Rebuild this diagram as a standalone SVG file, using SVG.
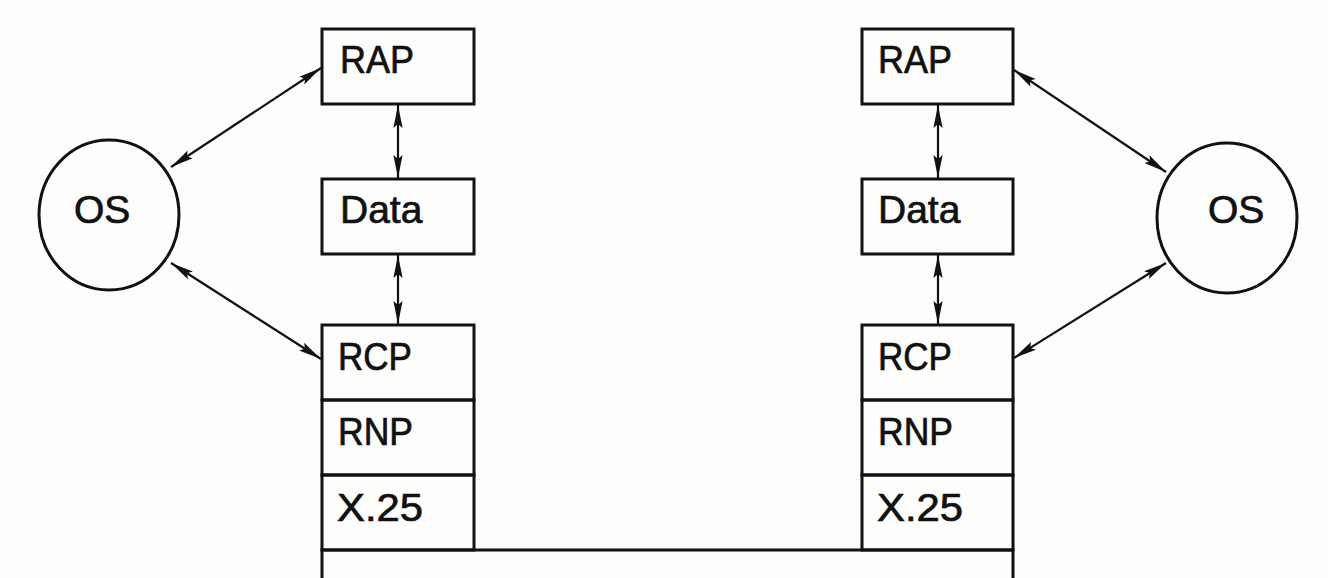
<svg xmlns="http://www.w3.org/2000/svg" width="1328" height="578" viewBox="0 0 1328 578">
  <style>
    .box { fill: none; stroke: #111; stroke-width: 3; }
    .os { fill: none; stroke: #111; stroke-width: 3; }
    .lbl { font-family: "Liberation Sans", Arial, sans-serif; font-size: 39px; fill: #111; stroke: #111; stroke-width: 0.7; }
    .link { stroke: #111; stroke-width: 2.2; fill: none; marker-start: url(#head); marker-end: url(#head); }
  </style>
  <defs>
    <marker id="head" viewBox="-26 -6 28 12" refX="0" refY="0" markerWidth="28" markerHeight="12" markerUnits="userSpaceOnUse" orient="auto-start-reverse">
      <path d="M0,0 L-23,-4.6 L-19,0 L-23,4.6 Z" fill="#111"/>
    </marker>
  </defs>
  <rect width="1328" height="578" fill="#fdfdfb"/>

  <!-- left host -->
  <g id="os-left">
    <ellipse class="os" cx="109" cy="215" rx="70" ry="75"/>
    <text class="lbl" x="74" y="223">OS</text>
  </g>
  <g id="rap-left">
    <rect class="box" x="322" y="29" width="152" height="75"/>
    <text class="lbl" x="340" y="73" textLength="74" lengthAdjust="spacingAndGlyphs">RAP</text>
  </g>
  <g id="data-left">
    <rect class="box" x="322" y="179" width="152" height="75"/>
    <text class="lbl" x="340" y="223">Data</text>
  </g>
  <g id="rcp-left">
    <rect class="box" x="322" y="325" width="152" height="75"/>
    <text class="lbl" x="338" y="370" textLength="74" lengthAdjust="spacingAndGlyphs">RCP</text>
  </g>
  <g id="rnp-left">
    <rect class="box" x="322" y="400" width="152" height="75"/>
    <text class="lbl" x="338" y="445" textLength="75" lengthAdjust="spacingAndGlyphs">RNP</text>
  </g>
  <g id="x25-left">
    <rect class="box" x="322" y="475" width="152" height="75"/>
    <text class="lbl" x="337" y="521" textLength="86" lengthAdjust="spacingAndGlyphs">X.25</text>
  </g>

  <!-- right host -->
  <g id="os-right">
    <ellipse class="os" cx="1227" cy="218" rx="70" ry="75"/>
    <text class="lbl" x="1208" y="223">OS</text>
  </g>
  <g id="rap-right">
    <rect class="box" x="862" y="29" width="151" height="75"/>
    <text class="lbl" x="878" y="73" textLength="74" lengthAdjust="spacingAndGlyphs">RAP</text>
  </g>
  <g id="data-right">
    <rect class="box" x="862" y="179" width="151" height="75"/>
    <text class="lbl" x="878" y="223">Data</text>
  </g>
  <g id="rcp-right">
    <rect class="box" x="862" y="325" width="151" height="75"/>
    <text class="lbl" x="878" y="370" textLength="74" lengthAdjust="spacingAndGlyphs">RCP</text>
  </g>
  <g id="rnp-right">
    <rect class="box" x="862" y="400" width="151" height="75"/>
    <text class="lbl" x="878" y="445" textLength="75" lengthAdjust="spacingAndGlyphs">RNP</text>
  </g>
  <g id="x25-right">
    <rect class="box" x="862" y="475" width="151" height="75"/>
    <text class="lbl" x="877" y="521" textLength="86" lengthAdjust="spacingAndGlyphs">X.25</text>
  </g>

  <!-- shared network layer along the bottom -->
  <g id="network">
    <rect class="box" x="322" y="550" width="691" height="50"/>
  </g>

  <g id="connectors">
    <line class="link" x1="171" y1="167" x2="321" y2="68"/>
    <line class="link" x1="171" y1="263" x2="321" y2="359"/>
    <line class="link" x1="398" y1="105" x2="398" y2="178"/>
    <line class="link" x1="398" y1="255" x2="398" y2="324"/>
    <line class="link" x1="938" y1="105" x2="938" y2="178"/>
    <line class="link" x1="938" y1="255" x2="938" y2="324"/>
    <line class="link" x1="1014" y1="70" x2="1166" y2="172"/>
    <line class="link" x1="1166" y1="263" x2="1014" y2="358"/>
  </g>
</svg>
